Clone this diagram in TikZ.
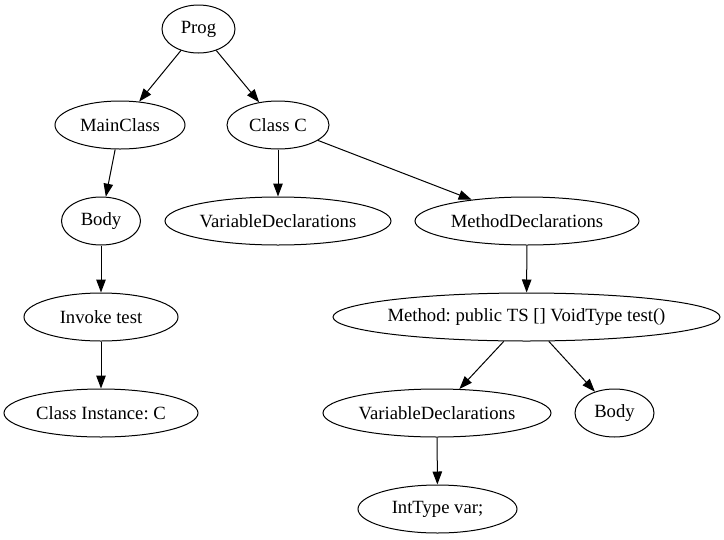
\documentclass[tikz,border=0pt]{standalone}
\usepackage{fontspec}
\setmainfont{Liberation Serif}
\usetikzlibrary{shapes.geometric,arrows.meta}
\tikzset{
  gnode/.style={ellipse, draw, line width=1pt, inner sep=0pt, minimum height=48pt,
    font=\fontsize{18.67}{22}\selectfont\frenchspacing},
  gedge/.style={line width=1pt, -{Triangle[length=13pt,width=9.5pt]}}
}
\begin{document}
\begin{tikzpicture}[x=1pt,y=-1pt]
\useasboundingbox (0,0) rectangle (724,539);
\node[gnode, minimum width=73pt] (prog) at (198.5,29) {Prog};
\node[gnode, minimum width=130pt] (main) at (120,125) {MainClass};
\node[gnode, minimum width=102pt] (classc) at (278,125) {Class C};
\node[gnode, minimum width=79pt] (body1) at (101,221) {Body};
\node[gnode, minimum width=226pt] (vd1) at (278,221) {VariableDeclarations};
\node[gnode, minimum width=224pt] (md) at (527,221) {MethodDeclarations};
\node[gnode, minimum width=154pt] (invoke) at (101,317) {Invoke test};
\node[gnode, minimum width=387pt, inner xsep=-30pt] (method) at (526.5,317) {Method: public TS [] VoidType test()};
\node[gnode, minimum width=194pt] (inst) at (101,413) {Class Instance: C};
\node[gnode, minimum width=228pt] (vd2) at (437,413) {VariableDeclarations};
\node[gnode, minimum width=79pt] (body2) at (614.5,413) {Body};
\node[gnode, minimum width=159pt] (int) at (437.5,509) {IntType var;};
\draw[gedge] (prog) -- (main);
\draw[gedge] (prog) -- (classc);
\draw[gedge] (main) -- (body1);
\draw[gedge] (body1) -- (invoke);
\draw[gedge] (invoke) -- (inst);
\draw[gedge] (classc) -- (vd1);
\draw[gedge] (classc) -- (md);
\draw[gedge] (md) -- (method);
\draw[gedge] (method) -- (vd2);
\draw[gedge] (method) -- (body2);
\draw[gedge] (vd2) -- (int);
\end{tikzpicture}
\end{document}
